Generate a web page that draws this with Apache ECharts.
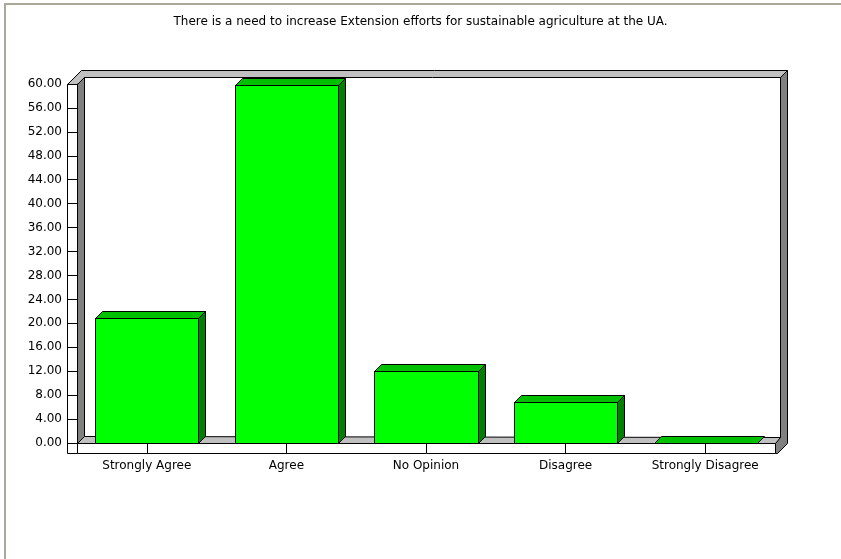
<!DOCTYPE html>
<html><head><meta charset="utf-8">
<script src="https://cdn.jsdelivr.net/npm/echarts@6/dist/echarts.min.js"></script>
<style>html,body{margin:0;padding:0;background:#fff}#c{width:841px;height:559px}</style>
</head><body><div id="c"></div>
<script>
const titleText = "There is a need to increase Extension efforts for sustainable agriculture at the UA.";
const categories = ["Strongly Agree", "Agree", "No Opinion", "Disagree", "Strongly Disagree"];
const values = [20.9, 59.8, 12.0, 6.9, 0];
const yMin = 0, yMax = 60, yStep = 4;

// layout (front plane of the 3D box)
const W = 841, H = 559;
const GL = 77, GR = 775, GT = 84, GB = 443, D = 7;
const FONT = "DejaVu Sans";
const LIGHT = '#c0c0c0', DARK = '#808080';

const chart = echarts.init(document.getElementById('c'), null, {renderer: 'canvas'});

const P = (x, y) => [x + 0.5, y + 0.5];
const graphics = [
  // outer frame
  {type: 'polyline', z: 1, shape: {points: [[5, H], [5, 4], [W, 4]]}, style: {stroke: '#aca899', lineWidth: 2, fill: null}},
  // floor top
  {type: 'polygon', z: 1, shape: {points: [P(GL, GB), P(GR, GB), P(GR + D - 1, GB - D + 1), P(GL + D, GB - D)]}, style: {fill: LIGHT, stroke: '#000', lineWidth: 1}},
  // top face (back wall top + left wall top)
  {type: 'polygon', z: 1, shape: {points: [P(67, GT), P(GL, GT), P(GL + D, GT - D), P(GR + 5, GT - D), P(GR + 12, GT - 14), P(81, GT - 14)]}, style: {fill: LIGHT, stroke: '#000', lineWidth: 1}},
  // right dark side
  {type: 'polygon', z: 1, shape: {points: [P(GR + 5, GT - D), P(GR + 12, GT - 14), P(GR + 12, GB), P(GR + 2, GB + 10), P(GR, GB + 10), P(GR, GB), P(GR + 5, GB - 6)]}, style: {fill: DARK, stroke: '#000', lineWidth: 1}},
  // left wall dark side
  {type: 'polygon', z: 1, shape: {points: [P(GL, GT), P(GL + D, GT - D), P(GL + D, GB - D), P(GL, GB)]}, style: {fill: DARK, stroke: '#000', lineWidth: 1}},
  // left wall front face
  {type: 'rect', z: 1, shape: {x: 67.5, y: GT + 0.5, width: GL - 67, height: GB + 10 - GT}, style: {fill: '#fff', stroke: '#000', lineWidth: 1}},
  // floor front face
  {type: 'rect', z: 1, shape: {x: GL + 0.5, y: GB + 0.5, width: GR - GL, height: 10}, style: {fill: '#fff', stroke: '#000', lineWidth: 1}}
];

chart.setOption({
  animation: false,
  backgroundColor: '#fff',
  title: {
    text: titleText, left: 'center', top: 11,
    textStyle: {fontFamily: FONT, fontSize: 12, fontWeight: 'normal', color: '#000'}
  },
  grid: {left: GL, right: W - GR, top: GT, bottom: H - GB, containLabel: false},
  xAxis: {
    type: 'category', data: categories, z: 10,
    axisLine: {show: false},
    axisTick: {show: true, alignWithLabel: true, length: 10, lineStyle: {color: '#000'}},
    axisLabel: {fontFamily: FONT, fontSize: 12, color: '#000', margin: 17, interval: 0},
    splitLine: {show: false}
  },
  yAxis: {
    type: 'value', min: yMin, max: yMax, interval: yStep, z: 10,
    axisLine: {show: true, lineStyle: {color: '#000'}},
    axisTick: {show: true, length: 10, lineStyle: {color: '#000'}},
    axisLabel: {fontFamily: FONT, fontSize: 12, color: '#000', margin: 15, padding: [4, 0, 0, 0], formatter: v => v.toFixed(2)},
    splitLine: {show: false}
  },
  graphic: graphics,
  series: [{
    type: 'custom', z: 5,
    data: values.map((v, i) => [i, v]),
    renderItem: function (params, api) {
      const v = api.value(1);
      const top = api.coord([api.value(0), v]);
      const base = api.coord([api.value(0), 0]);
      const bw = api.size([1, 0])[0] * 0.74;
      const x0 = Math.round(top[0] - bw / 2) + 0.5, x1 = Math.round(top[0] + bw / 2) + 0.5;
      const y0 = Math.round(base[1]) + 0.5, y1 = Math.round(top[1]) + 0.5;
      const ch = [];
      if (y0 - y1 > 0.5) {
        ch.push({type: 'polygon', shape: {points: [[x1, y1], [x1 + D, y1 - D], [x1 + D, y0 - D], [x1, y0]]}, style: {fill: '#008000', stroke: '#000', lineWidth: 1}});
        ch.push({type: 'rect', shape: {x: x0, y: y1, width: x1 - x0, height: y0 - y1}, style: {fill: '#00ff00', stroke: '#000', lineWidth: 1}});
      }
      ch.push({type: 'polygon', shape: {points: [[x0, y1], [x1, y1], [x1 + D, y1 - D], [x0 + D, y1 - D]]}, style: {fill: '#00c000', stroke: '#000', lineWidth: 1}});
      return {type: 'group', children: ch};
    }
  }]
});
</script>
</body></html>
